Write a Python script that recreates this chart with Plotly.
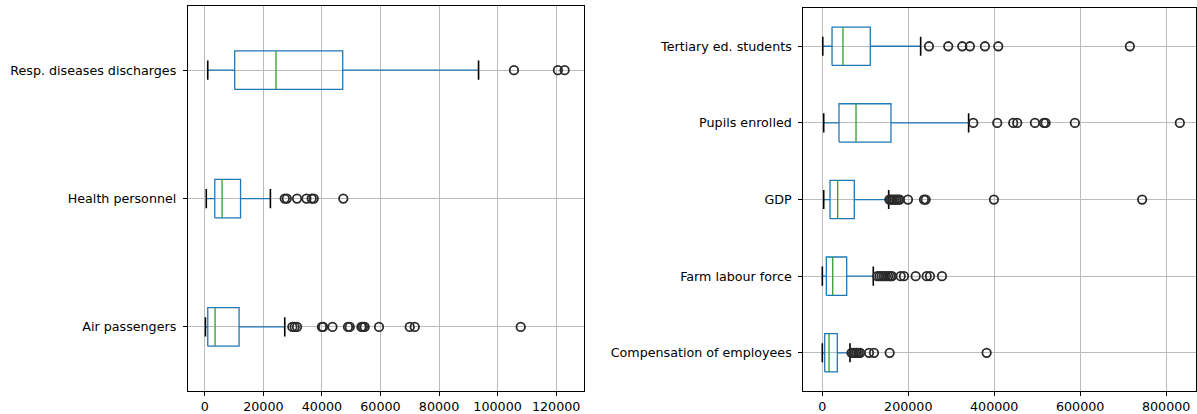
import plotly.graph_objects as go

# ---------------- data ----------------
left_labels = ["Air passengers", "Health personnel", "Resp. diseases discharges"]
left_whislo = [200, 500, 1000]
left_q1 = [1000, 3400, 10200]
left_med = [3500, 5900, 24300]
left_q3 = [11700, 12200, 47100]
left_whishi = [27300, 22400, 93500]
left_fliers = [
    [29900, 30700, 31500, 40000, 40400, 43600, 48900, 49500, 53500, 54000, 54600,
     59500, 70000, 71700, 107900],
    [27300, 28000, 31500, 34700, 36500, 37200, 47300],
    [105600, 120600, 122900],
]

right_labels = ["Compensation of employees", "Farm labour force", "GDP",
                "Pupils enrolled", "Tertiary ed. students"]
right_whislo = [0, 0, 3200, 3200, 1000]
right_q1 = [5600, 9300, 17900, 38800, 22600]
right_med = [15600, 24200, 35800, 78400, 48100]
right_q3 = [34900, 56700, 74400, 159800, 111600]
right_whishi = [64400, 118600, 154400, 340400, 228800]
right_fliers = [
    [68000, 72000, 76000, 80000, 84000, 88000, 108600, 120200, 156700, 382300],
    [128000, 133000, 138000, 143000, 148000, 153000, 158000, 162000, 182300, 190000,
     217200, 242800, 250500, 278400],
    [156000, 160000, 164000, 168000, 172000, 176000, 180000, 199300, 236500, 240500,
     399300, 744200],
    [351200, 407000, 444200, 453500, 494700, 515600, 519500, 587700, 831900],
    [248100, 293000, 325600, 343500, 378400, 409400, 715600],
]

# ---------------- styling ----------------
BOX_C = "#1f77b4"
MED_C = "#2ca02c"
CAP_C = "black"
FLIER_C = "#2a2a2a"
GRID_C = "#bcbcbc"
FONT = dict(family="DejaVu Sans", size=12.7, color="black")

fig = go.Figure()


def add_boxes(labels, whislo, q1, med, q3, whishi, fliers, width, xa, ya):
    half = width / 2
    for i in range(len(labels)):
        p = i + 1
        fig.add_trace(go.Scatter(
            x=[q1[i], q3[i], q3[i], q1[i], q1[i]],
            y=[p - half, p - half, p + half, p + half, p - half],
            mode="lines", line=dict(color=BOX_C, width=1.3),
            xaxis=xa, yaxis=ya, showlegend=False, hoverinfo="skip"))
        fig.add_trace(go.Scatter(
            x=[whislo[i], q1[i], None, q3[i], whishi[i]],
            y=[p, p, None, p, p],
            mode="lines", line=dict(color=BOX_C, width=1.3),
            xaxis=xa, yaxis=ya, showlegend=False, hoverinfo="skip"))
        fig.add_trace(go.Scatter(
            x=[med[i], med[i]], y=[p - half, p + half],
            mode="lines", line=dict(color=MED_C, width=1.3),
            xaxis=xa, yaxis=ya, showlegend=False, hoverinfo="skip"))
        fig.add_trace(go.Scatter(
            x=[whislo[i], whislo[i], None, whishi[i], whishi[i]],
            y=[p - half / 2, p + half / 2, None, p - half / 2, p + half / 2],
            mode="lines", line=dict(color=CAP_C, width=1.6),
            xaxis=xa, yaxis=ya, showlegend=False, hoverinfo="skip"))
        fig.add_trace(go.Scatter(
            x=fliers[i], y=[p] * len(fliers[i]),
            mode="markers",
            marker=dict(symbol="circle-open", size=8.5, color=FLIER_C,
                        line=dict(width=1.8, color=FLIER_C)),
            xaxis=xa, yaxis=ya, showlegend=False, hoverinfo="skip"))


add_boxes(left_labels, left_whislo, left_q1, left_med, left_q3, left_whishi,
          left_fliers, 0.3, "x", "y")
add_boxes(right_labels, right_whislo, right_q1, right_med, right_q3, right_whishi,
          right_fliers, 0.5, "x2", "y2")

W, H = 1197, 414
common = dict(showline=True, linecolor="black", linewidth=1, mirror=True,
              ticks="outside", ticklen=4, tickcolor="black", tickwidth=1,
              showgrid=True, gridcolor=GRID_C, gridwidth=1, zeroline=False,
              tickfont=FONT)

fig.update_layout(
    width=W, height=H,
    margin=dict(l=0, r=0, t=0, b=0),
    paper_bgcolor="white", plot_bgcolor="white",
    font=FONT,
    xaxis=dict(domain=[188 / W, 584 / W], range=[-5800, 129350],
               tickvals=[0, 20000, 40000, 60000, 80000, 100000, 120000],
               ticktext=["0", "20000", "40000", "60000", "80000", "100000", "120000"],
               anchor="y", **common),
    yaxis=dict(domain=[(H - 393) / H, (H - 6) / H], range=[0.5, 3.5],
               tickvals=[1, 2, 3], ticktext=left_labels, anchor="x",
               ticklabelstandoff=4, **common),
    xaxis2=dict(domain=[804 / W, 1.0], range=[-44200, 869500],
                tickvals=[0, 200000, 400000, 600000, 800000],
                ticktext=["0", "200000", "400000", "600000", "800000"],
                anchor="y2", **common),
    yaxis2=dict(domain=[(H - 393) / H, (H - 8) / H], range=[0.5, 5.5],
                tickvals=[1, 2, 3, 4, 5], ticktext=right_labels, anchor="x2",
                ticklabelstandoff=4, **common),
)

fig.write_html("out.html")
